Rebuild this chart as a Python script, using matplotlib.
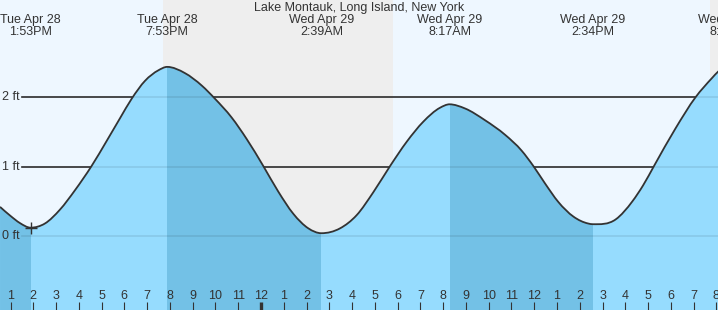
import matplotlib
matplotlib.use("Agg")
import matplotlib.pyplot as plt
import numpy as np
from matplotlib.path import Path
from matplotlib.patches import PathPatch

plt.rcParams['font.family'] = ['Liberation Sans', 'DejaVu Sans']

# hours counted from Tue Apr 28 00:00, heights in ft
times = [12.54, 12.98, 13.42, 13.88, 14.51, 15.17, 15.83, 16.56, 17.22, 17.81,
         18.32, 18.91, 19.49, 19.88, 20.66, 21.40, 21.98, 22.71, 23.37, 24.10,
         24.76, 25.42, 26.08, 26.65, 27.47, 28.20, 28.93, 29.67, 30.40, 31.13,
         31.86, 32.28, 32.96, 33.84, 34.72, 35.45, 35.96, 36.47, 37.06, 37.72,
         38.37, 38.57, 39.58, 40.31, 40.78, 41.26, 42.20, 43.08, 43.81, 44.07, 44.62]
heights = [0.42, 0.295, 0.185, 0.12, 0.18, 0.38, 0.66, 1.01, 1.37, 1.70,
           1.98, 2.24, 2.39, 2.44, 2.35, 2.17, 1.98, 1.71, 1.40, 1.01,
           0.64, 0.32, 0.11, 0.04, 0.11, 0.30, 0.63, 1.01, 1.36, 1.65,
           1.85, 1.90, 1.84, 1.67, 1.46, 1.23, 1.01, 0.76, 0.49, 0.28,
           0.18, 0.17, 0.24, 0.50, 0.73, 1.01, 1.55, 2.00, 2.28, 2.37, 2.48]

# high / low tides
extreme_times = [13.88, 19.88, 26.65, 32.28, 38.57, 44.62]
extreme_days = ['Tue Apr 28', 'Tue Apr 28', 'Wed Apr 29', 'Wed Apr 29', 'Wed Apr 29', 'Wed Apr 29']
extreme_clock = ['1:53PM', '7:53PM', '2:39AM', '8:17AM', '2:34PM', '8:37PM']

# night spans (sunset, sunrise)
nights = [(19.71, 29.80), (43.71, 53.80)]

hour_ticks = list(range(13, 45))
hour_labels = [str((h - 1) % 12 + 1) for h in hour_ticks]
ft_levels = [0, 1, 2]

title = 'Lake Montauk, Long Island, New York'

x0, x1 = 12.538, 44.07
y0, y1 = -1.068, 3.405

DAY = '#eef7ff'
NIGHT = '#eeeeee'
RISING = '#96dcfe'
FALLING = '#73c1e6'
INK = '#333333'
FS = 9


def smooth_path(xs, ys, flat_at):
    # cubic hermite segments written as bezier curves, flat at the highs/lows
    xs = np.asarray(xs, float)
    ys = np.asarray(ys, float)
    n = len(xs)
    h = np.diff(xs)
    s = np.diff(ys) / h
    m = np.zeros(n)
    for i in range(1, n - 1):
        m[i] = (s[i - 1] * h[i] + s[i] * h[i - 1]) / (h[i - 1] + h[i])
        if min(abs(xs[i] - t) for t in flat_at) < 1e-6:
            m[i] = 0.0
    m[0] = (3 * s[0] - m[1]) / 2
    m[-1] = 0.0
    verts = [(xs[0], ys[0])]
    codes = [Path.MOVETO]
    for i in range(n - 1):
        d = h[i] / 3
        verts += [(xs[i] + d, ys[i] + m[i] * d),
                  (xs[i + 1] - d, ys[i + 1] - m[i + 1] * d),
                  (xs[i + 1], ys[i + 1])]
        codes += [Path.CURVE4] * 3
    return verts, codes


fig = plt.figure(figsize=(7.18, 3.10), dpi=100)
ax = fig.add_axes([0, 0, 1, 1])
ax.set_xlim(x0, x1)
ax.set_ylim(y0, y1)
ax.set_facecolor(DAY)
for sp in ax.spines.values():
    sp.set_visible(False)

for a, b in nights:
    ax.axvspan(a, b, color=NIGHT, lw=0, zorder=0)

for lv in ft_levels:
    ax.axhline(lv, xmin=22 / 718, xmax=1, color=INK, lw=1.2, zorder=1)
    ax.text(2 / 718, lv, '%d ft' % lv, transform=ax.get_yaxis_transform(),
            ha='left', va='center', fontsize=FS, color=INK)

verts, codes = smooth_path(times, heights, extreme_times)
line_path = Path(verts, codes)
fill_verts = verts + [(verts[-1][0], y0 - 1), (verts[0][0], y0 - 1), verts[0]]
fill_codes = codes + [Path.LINETO, Path.LINETO, Path.CLOSEPOLY]
fill = PathPatch(Path(fill_verts, fill_codes), facecolor=RISING, edgecolor='none', zorder=2)
ax.add_patch(fill)

# falling tide (high -> low) in the darker blue
bounds = [x0 - 1] + extreme_times
for i in range(len(bounds) - 1):
    if i % 2 == 0:
        span = ax.axvspan(bounds[i], bounds[i + 1], color=FALLING, lw=0, zorder=2.1)
        span.set_clip_path(fill)

for lv in ft_levels:
    ax.axhline(lv, xmin=22 / 718, xmax=1, color='black', alpha=0.09, lw=1.2, zorder=2.5)

ax.add_patch(PathPatch(line_path, facecolor='none', edgecolor=INK, lw=1.3, zorder=3))

ax.plot([extreme_times[0]], [heights[3]], marker='+', ms=8, mew=1.0, color=INK, zorder=4)

# labels above each high / low
for t, d, c in zip(extreme_times, extreme_days, extreme_clock):
    ax.text(t, 1 - 20 / 310, d, transform=ax.get_xaxis_transform(),
            ha='center', va='center', fontsize=FS, color=INK)
    ax.text(t, 1 - 32 / 310, c, transform=ax.get_xaxis_transform(),
            ha='center', va='center', fontsize=FS, color=INK)

ax.text(0.5, 1 - 7.5 / 310, title, transform=ax.transAxes, ha='center',
        va='center', fontsize=FS, color=INK)

ax.set_yticks([])
ax.set_xticks(hour_ticks)
ax.set_xticklabels(hour_labels)
ax.xaxis.set_zorder(5)
ax.tick_params(axis='x', direction='in', length=6, width=0.8, color=INK,
               pad=-14.5, labelsize=FS, labelcolor=INK)
for tk, h in zip(ax.xaxis.get_major_ticks(), hour_ticks):
    if h % 24 == 0:
        tk.tick1line.set_markeredgewidth(2.4)

fig.savefig('out.png', dpi=100)
